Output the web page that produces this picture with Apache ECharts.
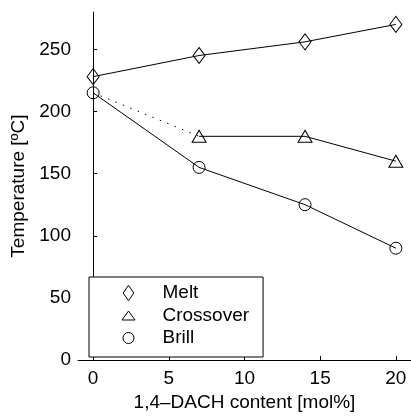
<!DOCTYPE html>
<html>
<head>
<meta charset="utf-8">
<script src="https://cdn.jsdelivr.net/npm/echarts@6/dist/echarts.min.js"></script>
<style>html,body{margin:0;padding:0;background:#fff;}#c{width:411px;height:417px;}</style>
</head>
<body>
<div id="c"></div>
<script>
const xTicks = [0, 5, 10, 15, 20];
const yTicks = [0, 50, 100, 150, 200, 250];
const meltX = [0, 7, 14, 20];
const meltY = [228, 245, 256, 270];
const crossX = [7, 14, 20];
const crossY = [180, 180, 160];
const crossDotX = [0, 7];
const crossDotY = [215, 180];
const brillX = [0, 7, 14, 20];
const brillY = [215, 155, 125, 90];

const pairs = (xs, ys) => xs.map((x, i) => [x, ys[i]]);
const FONT = 'Liberation Sans, Arial, Helvetica, sans-serif';
const FS = 19;
const hollow = { color: 'rgba(0,0,0,0)', borderColor: '#000', borderWidth: 1 };

const chart = echarts.init(document.getElementById('c'), null, { renderer: 'canvas' });
chart.setOption({
  animation: false,
  backgroundColor: '#fff',
  textStyle: { fontFamily: FONT },
  grid: { left: 78, right: 0, top: 12, bottom: 52, containLabel: false },
  xAxis: {
    type: 'value', min: -1, max: 21,
    name: '1,4\u2013DACH content [mol%]', nameLocation: 'middle', nameGap: 31,
    nameTextStyle: { fontSize: FS, color: '#000', fontFamily: FONT },
    axisLine: { lineStyle: { color: '#000', width: 1 } },
    axisTick: { inside: true, length: 4, customValues: xTicks, lineStyle: { color: '#000' } },
    axisLabel: { customValues: xTicks, fontSize: FS, color: '#000', margin: 9, fontFamily: FONT },
    splitLine: { show: false }
  },
  yAxis: {
    type: 'value', min: 0, max: 280,
    name: 'Temperature [\u00baC]', nameLocation: 'middle', nameGap: 47,
    nameTextStyle: { fontSize: FS, color: '#000', fontFamily: FONT },
    axisLine: { show: true, lineStyle: { color: '#000', width: 1 } },
    axisTick: { show: true, inside: true, length: 4, customValues: yTicks, lineStyle: { color: '#000' } },
    axisLabel: { customValues: yTicks, fontSize: FS, color: '#000', margin: 7, fontFamily: FONT },
    splitLine: { show: false }
  },
  legend: {
    orient: 'vertical', left: 89, top: 277,
    padding: [6.5, 14, 9.5, 31],
    itemWidth: 58, itemHeight: 16, itemGap: 3.5,
    backgroundColor: '#fff', borderColor: '#000', borderWidth: 1, borderRadius: 0,
    textStyle: { fontSize: FS, color: '#000', fontFamily: FONT },
    itemStyle: { color: 'rgba(0,0,0,0)', borderColor: '#000', borderWidth: 1 },
    data: [
      { name: 'Melt', icon: 'path://M0,0M16,16M8,0.3L13.3,8L8,15.7L2.7,8Z' },
      { name: 'Crossover', icon: 'path://M0,0M16,16M8,3.5L14.5,12.5L1.5,12.5Z' },
      { name: 'Brill', icon: 'path://M0,0M16,16M2.5,8A5.5,5.5 0 1,1 13.5,8A5.5,5.5 0 1,1 2.5,8Z' }
    ]
  },
  series: [
    {
      name: 'CrossDot', type: 'line', data: pairs(crossDotX, crossDotY),
      symbol: 'none', z: 1,
      lineStyle: { color: '#000', width: 1, type: [1.5, 6.5] }
    },
    {
      name: 'Melt', type: 'line', data: pairs(meltX, meltY),
      symbol: 'diamond', symbolSize: [12, 16],
      lineStyle: { color: '#000', width: 1 }, itemStyle: hollow
    },
    {
      name: 'Crossover', type: 'line', data: pairs(crossX, crossY),
      symbol: 'triangle', symbolSize: [14, 12],
      lineStyle: { color: '#000', width: 1 }, itemStyle: hollow
    },
    {
      name: 'Brill', type: 'line', data: pairs(brillX, brillY),
      symbol: 'circle', symbolSize: 12,
      lineStyle: { color: '#000', width: 1 }, itemStyle: hollow
    }
  ]
});
</script>
</body>
</html>
